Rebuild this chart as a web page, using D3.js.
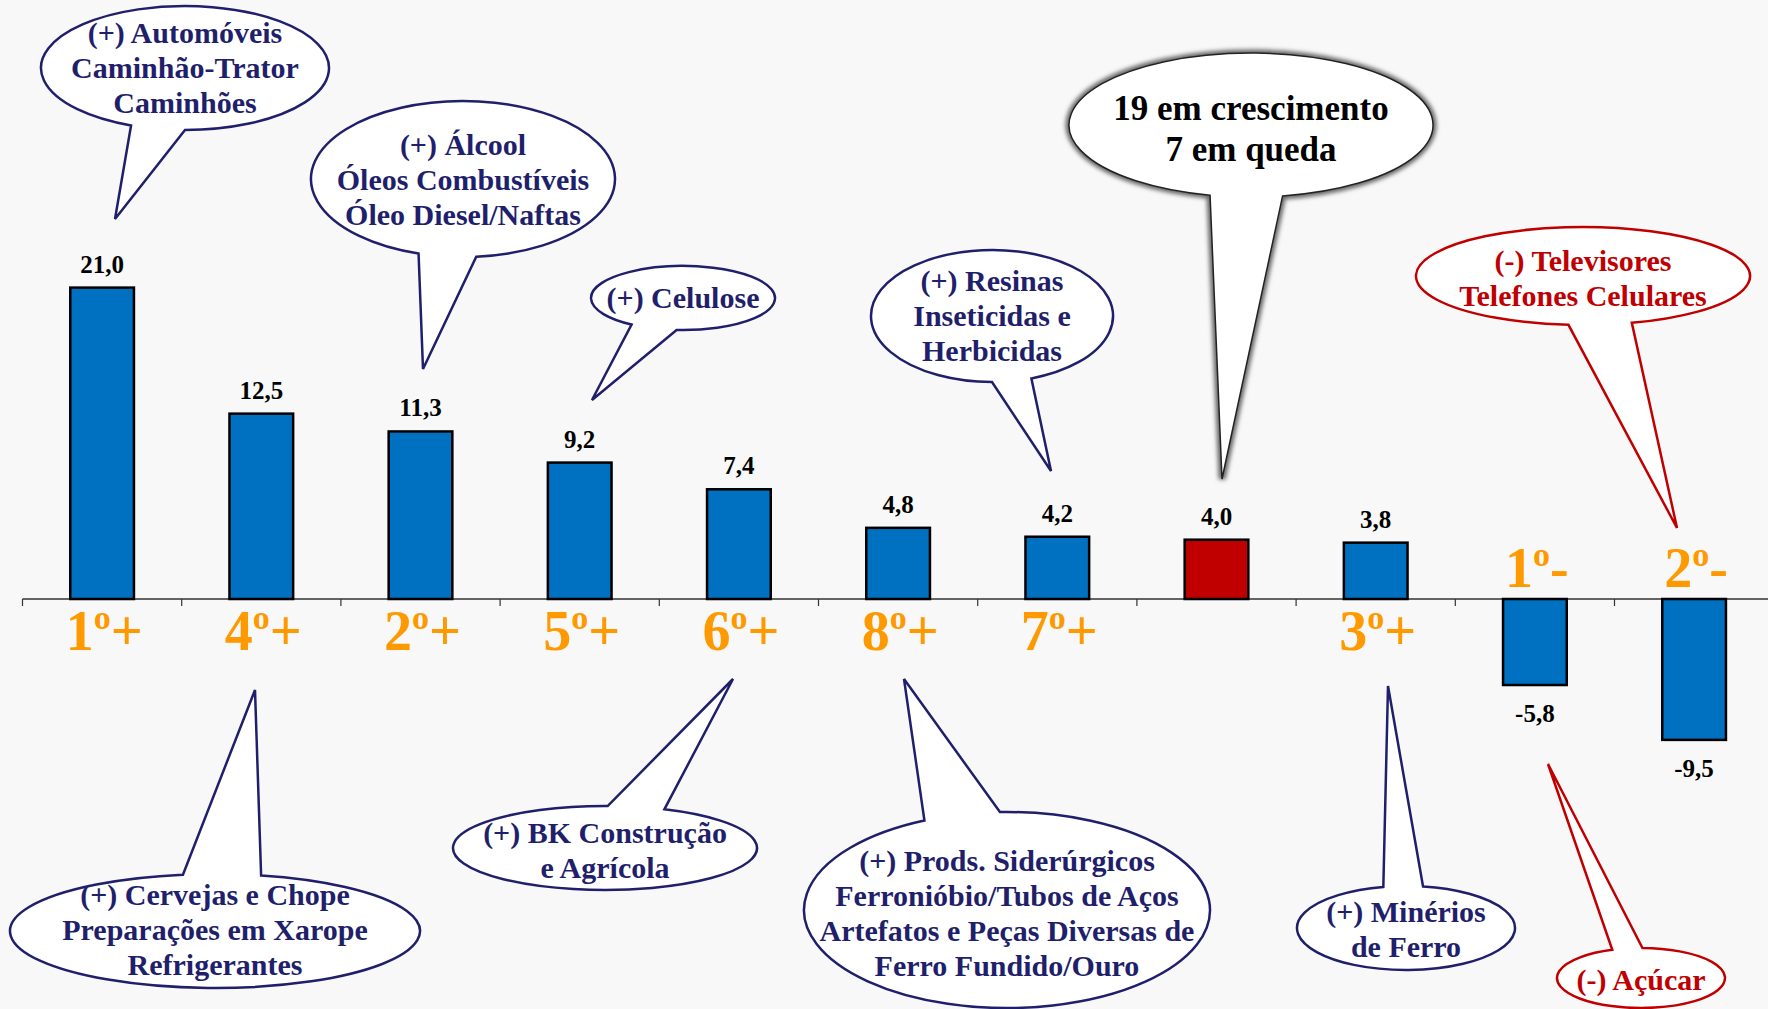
<!DOCTYPE html>
<html>
<head>
<meta charset="utf-8">
<script src="https://cdnjs.cloudflare.com/ajax/libs/d3/7.8.5/d3.min.js"></script>
<style>
  body { margin: 0; background: #f8f8f8; }
  svg { display: block; }
</style>
</head>
<body>
<svg id="chart" width="1768" height="1009" viewBox="0 0 1768 1009"></svg>
<script>
// valores (%), na ordem das barras
const values = [21.0, 12.5, 11.3, 9.2, 7.4, 4.8, 4.2, 4.0, 3.8, -5.8, -9.5]
const rankNum = ["1", "4", "2", "5", "6", "8", "7", "", "3", "1", "2"]
const rankSign = ["+", "+", "+", "+", "+", "+", "+", "", "+", "-", "-"]
const totalIndex = 7

// textos dos balões
const calloutText = [
    ["(+) Automóveis", "Caminhão-Trator", "Caminhões"],
    ["(+) Álcool", "Óleos Combustíveis", "Óleo Diesel/Naftas"],
    ["(+) Celulose"],
    ["(+) Resinas", "Inseticidas e", "Herbicidas"],
    ["19 em crescimento", "7 em queda"],
    ["(-) Televisores", "Telefones Celulares"],
    ["(+) Cervejas e Chope", "Preparações em Xarope", "Refrigerantes"],
    ["(+) BK Construção", "e Agrícola"],
    ["(+) Prods. Siderúrgicos", "Ferronióbio/Tubos de Aços", "Artefatos e Peças Diversas de", "Ferro Fundido/Ouro"],
    ["(+) Minérios", "de Ferro"],
    ["(-) Açúcar"]
]
const calloutTone = ["pos", "pos", "pos", "pos", "note", "neg", "pos", "pos", "pos", "pos", "neg"]

// posição dos balões (layout da anotação)
const calloutGeom = [
    {cx: 185, cy: 68, rx: 144, ry: 62, a1: 90, a2: 112, tip: [115, 219], ty: 43},
    {cx: 463, cy: 179, rx: 152, ry: 78, a1: 85, a2: 107, tip: [423, 369], ty: 155},
    {cx: 683, cy: 298, rx: 92, ry: 32, a1: 94, a2: 124, tip: [592, 400], ty: 308},
    {cx: 992, cy: 316, rx: 121, ry: 66, a1: 71, a2: 90, tip: [1051, 471], ty: 291},
    {cx: 1251, cy: 125, rx: 182, ry: 72, a1: 80, a2: 103, tip: [1222, 479], ty: 120, lh: 41, fs: 35},
    {cx: 1583, cy: 276, rx: 167, ry: 49, a1: 73, a2: 95, tip: [1677, 528], ty: 271},
    {cx: 215, cy: 931, rx: 205, ry: 57, a1: 261, a2: 283, tip: [255, 690], ty: 905},
    {cx: 605, cy: 848, rx: 152, ry: 42, a1: 271, a2: 293, tip: [733, 679], ty: 843},
    {cx: 1007, cy: 910, rx: 203, ry: 98, a1: 246, a2: 268, tip: [904, 679], ty: 871},
    {cx: 1406, cy: 928, rx: 109, ry: 42, a1: 258, a2: 279, tip: [1388, 686], ty: 922},
    {cx: 1641, cy: 978, rx: 84, ry: 30, a1: 250, a2: 271, tip: [1548, 764], ty: 990}
]

const toneStroke = {pos: "#1f1f6b", neg: "#c00000", note: "#222"}
const toneText = {pos: "#1f1f6b", neg: "#c00000", note: "#000"}

const svg = d3.select("#chart")
const W = 1768, H = 1009
svg.append("rect").attr("width", W).attr("height", H).attr("fill", "#f8f8f8")

const defs = svg.append("defs")
defs.append("filter").attr("id", "soft")
    .attr("x", "-10%").attr("y", "-10%").attr("width", "120%").attr("height", "120%")
    .append("feGaussianBlur").attr("stdDeviation", 2.2)

const locale = d3.formatLocale({decimal: ",", thousands: ".", grouping: [3], currency: ["R$", ""], minus: "-"})
const fmt = locale.format(".1f")

const idx = d3.range(values.length)
const x = d3.scaleBand()
    .domain(idx)
    .range([22.5, 1773.7])
    .paddingInner(0.6)
    .paddingOuter(0.3)

const y = d3.scaleLinear()
    .domain([-10, 21])
    .range([599 + 148.3, 599 - 311.4])

const y0 = y(0)

// eixo
const axis = svg.append("g")
axis.append("line")
    .attr("x1", x.range()[0]).attr("x2", W)
    .attr("y1", y0).attr("y2", y0)
    .attr("stroke", "#333").attr("stroke-width", 1.5)
axis.selectAll(".tick")
    .data(d3.range(values.length + 1))
    .enter()
    .append("line")
    .attr("x1", i => x.range()[0] + i * x.step())
    .attr("x2", i => x.range()[0] + i * x.step())
    .attr("y1", y0).attr("y2", y0 + 7)
    .attr("stroke", "#333").attr("stroke-width", 1.2)

// barras
svg.append("g")
    .selectAll("rect")
    .data(idx)
    .enter()
    .append("rect")
    .attr("x", i => x(i))
    .attr("width", x.bandwidth())
    .attr("y", i => Math.min(y(values[i]), y0))
    .attr("height", i => Math.abs(y(values[i]) - y0))
    .attr("fill", i => i == totalIndex ? "#c00000" : "#0070c0")
    .attr("stroke", "#000")
    .attr("stroke-width", 2.5)

// rótulos de valor
svg.append("g")
    .selectAll("text")
    .data(idx)
    .enter()
    .append("text")
    .attr("x", i => x(i) + x.bandwidth() / 2)
    .attr("y", i => values[i] >= 0 ? y(values[i]) - 15 : y(values[i]) + 37)
    .attr("text-anchor", "middle")
    .attr("font-family", "'Liberation Serif', 'Times New Roman', serif")
    .attr("font-weight", "bold")
    .attr("font-size", 25)
    .attr("fill", "#000")
    .text(i => fmt(values[i]))

// rótulos de posição (1º+, 2º- ...)
const ranks = svg.append("g")
    .selectAll("text")
    .data(idx.filter(i => rankNum[i] != ""))
    .enter()
    .append("text")
    .attr("x", i => x(i) + x.bandwidth() / 2 + 2)
    .attr("y", i => values[i] >= 0 ? 650 : 587)
    .attr("text-anchor", "middle")
    .attr("font-family", "'Liberation Serif', 'Times New Roman', serif")
    .attr("font-weight", "bold")
    .attr("font-size", 56)
    .attr("fill", "#ff9900")
ranks.append("tspan").text(i => rankNum[i])
ranks.append("tspan").attr("font-size", 34).attr("dy", -21).text("o")
ranks.append("tspan").attr("dy", 21).text(i => rankSign[i])

// balões
function bubblePath(g) {
    const p = a => [g.cx + g.rx * Math.cos(a * Math.PI / 180), g.cy + g.ry * Math.sin(a * Math.PI / 180)]
    const s = p(g.a2), e = p(g.a1)
    return `M${s}A${g.rx},${g.ry} 0 1 1 ${e}L${g.tip}Z`
}

const callouts = svg.append("g")
    .selectAll("g")
    .data(idx)
    .enter()
    .append("g")

callouts.filter(i => calloutTone[i] == "note")
    .append("path")
    .attr("d", i => bubblePath(calloutGeom[i]))
    .attr("fill", "none")
    .attr("stroke", "#666")
    .attr("stroke-width", 7)
    .attr("filter", "url(#soft)")

callouts.append("path")
    .attr("d", i => bubblePath(calloutGeom[i]))
    .attr("fill", "#fff")
    .attr("stroke", i => toneStroke[calloutTone[i]])
    .attr("stroke-width", i => calloutTone[i] == "note" ? 1.5 : 2.5)
    .attr("stroke-linejoin", "miter")

callouts.each(function (i) {
    const g = calloutGeom[i]
    const lh = g.lh || 35
    d3.select(this).selectAll("text")
        .data(calloutText[i])
        .enter()
        .append("text")
        .attr("x", g.cx)
        .attr("y", (d, k) => g.ty + k * lh)
        .attr("text-anchor", "middle")
        .attr("font-family", "'Liberation Serif', 'Times New Roman', serif")
        .attr("font-weight", "bold")
        .attr("font-size", g.fs || 30)
        .attr("fill", toneText[calloutTone[i]])
        .text(d => d)
})
</script>
</body>
</html>
